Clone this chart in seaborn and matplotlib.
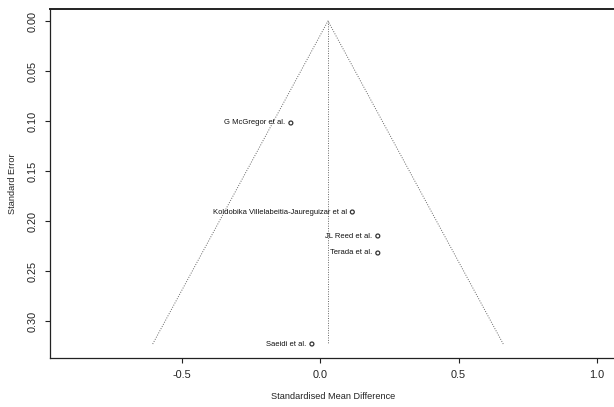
import numpy as np
import pandas as pd
import matplotlib
matplotlib.use("Agg")
import matplotlib.pyplot as plt
import seaborn as sns

# ---- data ----
studies = ["G McGregor et al.",
           "Koldobika Villelabeitia-Jaureguizar et al",
           "JL Reed et al.",
           "Terada et al.",
           "Saeidi et al."]
smd = [-0.106, 0.116, 0.208, 0.208, -0.030]
se = [0.102, 0.191, 0.215, 0.232, 0.323]
pooled = 0.028
x_ticks = [-0.5, 0.0, 0.5, 1.0]
y_ticks = [0.00, 0.05, 0.10, 0.15, 0.20, 0.25, 0.30]

df = pd.DataFrame({"study": studies, "smd": smd, "se": se})

sns.set_theme(style="white")
plt.rcParams["font.family"] = ["Liberation Sans", "DejaVu Sans"]
plt.rcParams["axes.unicode_minus"] = False

fig = plt.figure(figsize=(6.14, 4.07), dpi=100)
W, H = 614, 407
left, right, top, bottom = 50, 617, 8.5, 358
ax = fig.add_axes([left / W, 1 - bottom / H, (right - left) / W, (bottom - top) / H])

# funnel
se_max = max(se)
fx = [pooled - 1.96 * se_max, pooled, pooled + 1.96 * se_max]
fy = [se_max, 0, se_max]
ax.plot(fx, fy, linestyle=(0, (1, 1.5)), color="#666666", linewidth=0.7)
ax.plot([pooled, pooled], [0, se_max], linestyle=(0, (1, 1.5)), color="#666666", linewidth=0.7)

sns.scatterplot(data=df, x="smd", y="se", ax=ax, marker="o", s=8,
                facecolor="none", edgecolor="#333333", linewidth=0.9, legend=False)

for _, r in df.iterrows():
    ax.annotate(r["study"], (r["smd"], r["se"]), xytext=(-4, 0), textcoords="offset points",
                ha="right", va="center", fontsize=5.5, color="#111111")

ax.set_xlim(-0.976, 1.072)
ax.set_ylim(0.337, -0.0125)
ax.set_xticks(x_ticks)
ax.set_xticklabels([f"{v:.1f}" for v in x_ticks])
ax.set_yticks(y_ticks)
ax.set_yticklabels([f"{v:.2f}" for v in y_ticks], rotation=90, va="center")

for s in ["left", "bottom", "top"]:
    ax.spines[s].set_color("#222222")
    ax.spines[s].set_linewidth(0.9)
ax.spines["top"].set_linewidth(1.4)
ax.spines["right"].set_visible(False)

ax.tick_params(axis="both", which="major", direction="out", length=3.6, width=0.8,
               color="#222222", labelsize=7.8, labelcolor="#222222", pad=5,
               bottom=True, left=True)
ax.set_xlabel("Standardised Mean Difference", fontsize=6.6, color="#222222", labelpad=9)
ax.set_ylabel("Standard Error", fontsize=6.6, color="#222222", labelpad=8)

fig.savefig("out.png", dpi=100, facecolor="white")
